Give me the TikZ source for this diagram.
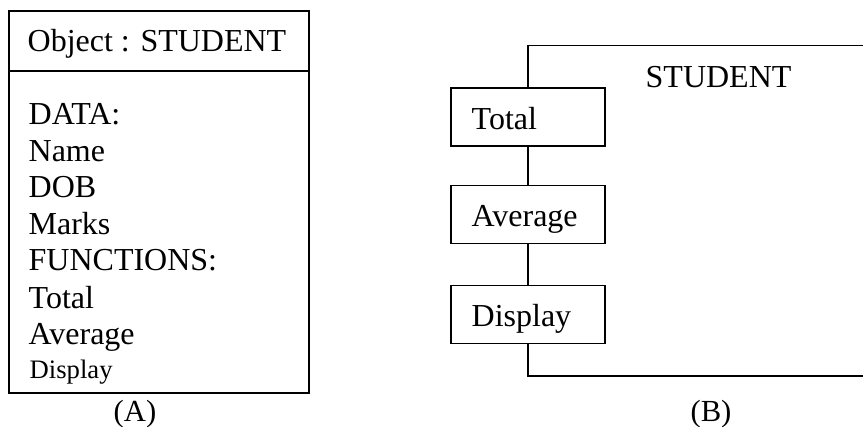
\documentclass[tikz,border=0pt]{standalone}
\usepackage{fontspec}
\setmainfont{Liberation Serif}
\begin{document}
\begin{tikzpicture}[x=0.75pt, y=-0.75pt,
  line width=1pt,
  txt/.style={anchor=base west, inner sep=0pt, font=\fontsize{24}{28}\selectfont},
  smalltxt/.style={anchor=base west, inner sep=0pt, font=\fontsize{20}{24}\selectfont},
  caption/.style={anchor=base, inner sep=0pt, font=\fontsize{23}{28}\selectfont},
  funcbox/.style={draw, minimum width=115.5pt, minimum height=43.5pt, inner sep=0pt}
]
\useasboundingbox (0,0) rectangle (863,426);

% (A) object box: header and member list
\coordinate (atl) at (9,11);
\coordinate (abr) at (309,393);
\draw (atl) rectangle (abr);
\draw (9,71) coordinate (divl) -- (309,71) coordinate (divr);

\node[txt] (hdr) at (27,51) {Object : STUDENT};
\node[txt] (data) at (28,124.5) {DATA:};
\node[txt] (name) at (28,161.7) {Name};
\node[txt] (dob) at (28,197.7) {DOB};
\node[txt] (marks) at (28,234) {Marks};
\node[txt] (funcs) at (28,270.7) {FUNCTIONS:};
\node[txt] (ftotal) at (28,308) {Total};
\node[txt] (favg) at (28,344) {Average};
\node[smalltxt] (fdisp) at (29,378) {Display};
\node[caption] (capa) at (135,421) {(A)};

% (B) object drawn with its functions on the boundary
\node[funcbox] (total) at (528,116.9) {};
\node[funcbox] (avg) at (528,214.7) {};
\node[funcbox] (disp) at (528,314.2) {};
\node[txt] (totaltxt) at (471,129.3) {Total};
\node[txt] (avgtxt) at (471,226) {Average};
\node[txt] (disptxt) at (471,326) {Display};

\coordinate (topend) at (863,45.7);
\coordinate (botend) at (863,376);
\draw (total.north) |- (topend);
\draw (disp.south) |- (botend);
\draw (total.south) -- (avg.north);
\draw (avg.south) -- (disp.north);

\node[txt] (objname) at (645,87) {STUDENT};
\node[caption] (capb) at (711,421) {(B)};
\end{tikzpicture}
\end{document}
